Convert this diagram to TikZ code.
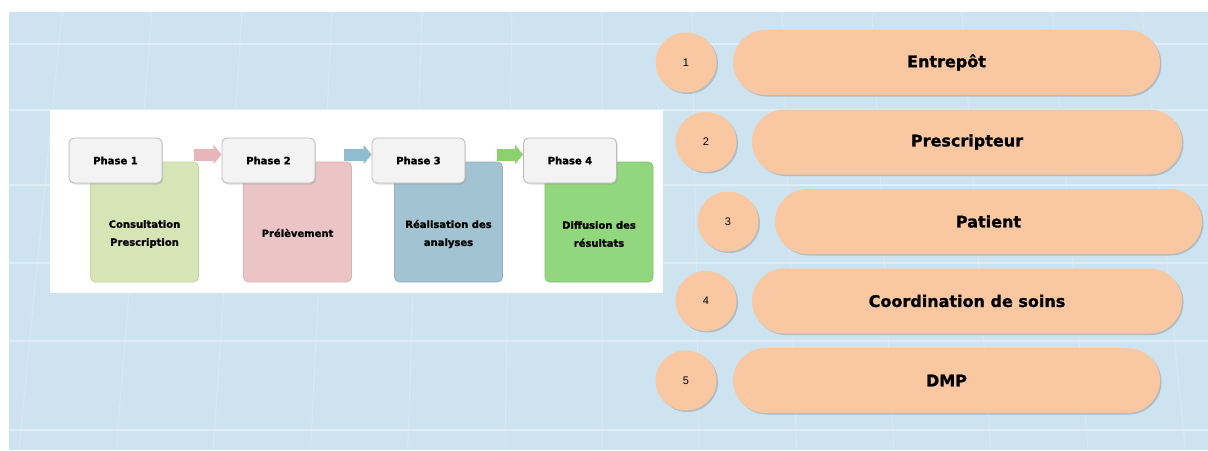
\documentclass[tikz,border=0pt]{standalone}
\usepackage{fontspec}
\setmainfont{DejaVu Sans}
\newfontfamily\numfont{Liberation Sans}
\newfontfamily\heavy{DejaVu Sans Bold}[FakeBold=1.2]
\usetikzlibrary{shadows,arrows.meta,shapes.misc,shapes.geometric}
\definecolor{bgblue}{RGB}{205,228,240}
\definecolor{gridc}{RGB}{222,237,246}
\definecolor{peach}{RGB}{249,200,162}
\definecolor{hdrfill}{RGB}{243,243,243}
\definecolor{hdrdraw}{RGB}{185,185,185}
\definecolor{bodyA}{RGB}{214,228,182}
\definecolor{bodyAd}{RGB}{196,214,160}
\definecolor{bodyB}{RGB}{235,196,198}
\definecolor{bodyBd}{RGB}{221,175,178}
\definecolor{bodyC}{RGB}{162,195,209}
\definecolor{bodyCd}{RGB}{143,177,193}
\definecolor{bodyD}{RGB}{146,214,126}
\definecolor{bodyDd}{RGB}{124,196,102}
\definecolor{arrA}{RGB}{232,182,185}
\definecolor{arrB}{RGB}{142,188,208}
\definecolor{arrC}{RGB}{141,208,111}
\begin{document}
\begin{tikzpicture}[x=1pt,y=-1pt,
  gridline/.style={draw=gridc,line width=1.6pt},
  vline/.style={draw=gridc,line width=1pt,opacity=0.6},
  hdr/.style={draw=hdrdraw,fill=hdrfill,rounded corners=5pt,minimum width=93pt,minimum height=45pt,line width=0.8pt,
    drop shadow={opacity=0.25,shadow xshift=1pt,shadow yshift=-1.5pt},font=\heavy\fontsize{10}{12}\selectfont,inner sep=0pt},
  bodybox/.style={rounded corners=5pt,minimum width=108pt,minimum height=120pt,line width=0.8pt,inner sep=0pt},
  bodytext/.style={font=\heavy\fontsize{10}{18}\selectfont,align=center,inner sep=0pt},
  flow/.style={line width=12pt,-{Triangle[length=8pt,width=19pt]}},
  pill/.style={rounded rectangle,fill=peach,minimum height=65pt,inner sep=0pt,
    drop shadow={opacity=0.4,shadow xshift=1.5pt,shadow yshift=-1.5pt},font=\heavy\fontsize{16}{18}\selectfont},
  num/.style={ellipse,fill=peach,minimum width=61pt,minimum height=60pt,inner sep=0pt,
    drop shadow={opacity=0.4,shadow xshift=1.5pt,shadow yshift=-1.5pt},font=\numfont\fontsize{11}{12}\selectfont}
]
\useasboundingbox (0,0) rectangle (1208,450);
\fill[white] (0,0) rectangle (1208,450);
\fill[bgblue] (9,12) rectangle (1208,450);
% grid
\foreach \y in {44,110,185,263,341,430} \draw[gridline] (9,\y) -- (1208,\y);
\foreach \t in {62,152,242,332,422,512,602,692,782,872,962,1052,1142}
  \draw[vline] (\t,12) -- ({\t+(\t-600)*0.08},450);
% white panel
\fill[white] (50,110) rectangle (663,293);
% bodies
\node[bodybox,fill=bodyA,draw=bodyAd] (b1) at (144.5,222) {};
\node[bodybox,fill=bodyB,draw=bodyBd] (b2) at (297.5,222) {};
\node[bodybox,fill=bodyC,draw=bodyCd] (b3) at (448.5,222) {};
\node[bodybox,fill=bodyD,draw=bodyDd] (b4) at (599,222) {};
\node[bodytext] (t1) at ([yshift=-12pt]b1.center) {Consultation\\Prescription};
\node[bodytext] (t2) at ([yshift=-11pt]b2.center) {Prélèvement};
\node[bodytext] (t3) at ([yshift=-12pt]b3.center) {Réalisation des\\analyses};
\node[bodytext] (t4) at ([yshift=-12pt]b4.center) {Diffusion des\\résultats};
% headers
\node[hdr] (h1) at (115.5,160.5) {Phase 1};
\node[hdr] (h2) at (268.5,160.5) {Phase 2};
\node[hdr] (h3) at (418.5,160.5) {Phase 3};
\node[hdr] (h4) at (570,160.5) {Phase 4};
% arrows
\coordinate (a1) at (194,154.5);
\coordinate (a2) at (344,154.5);
\coordinate (a3) at (497,154.5);
\draw[flow,draw=arrA,fill=arrA] (a1) -- (a1 -| h2.west);
\draw[flow,draw=arrB,fill=arrB] (a2) -- (a2 -| h3.west);
\draw[flow,draw=arrC,fill=arrC] (a3) -- (a3 -| h4.west);
% right list
\node[pill,minimum width=427pt] (p1) at (946.5,62.5) {Entrepôt};
\node[pill,minimum width=430pt] (p2) at (967,142) {Prescripteur};
\node[pill,minimum width=427pt] (p3) at (988.5,221.5) {Patient};
\node[pill,minimum width=430pt] (p4) at (967,301) {Coordination de soins};
\node[pill,minimum width=427pt] (p5) at (946.5,380.5) {DMP};
\node[num] (n1) at (686,62.5) {1};
\node[num] (n2) at (706,142) {2};
\node[num] (n3) at (728,221.5) {3};
\node[num] (n4) at (706,301) {4};
\node[num] (n5) at (686,380.5) {5};
\end{tikzpicture}
\end{document}
